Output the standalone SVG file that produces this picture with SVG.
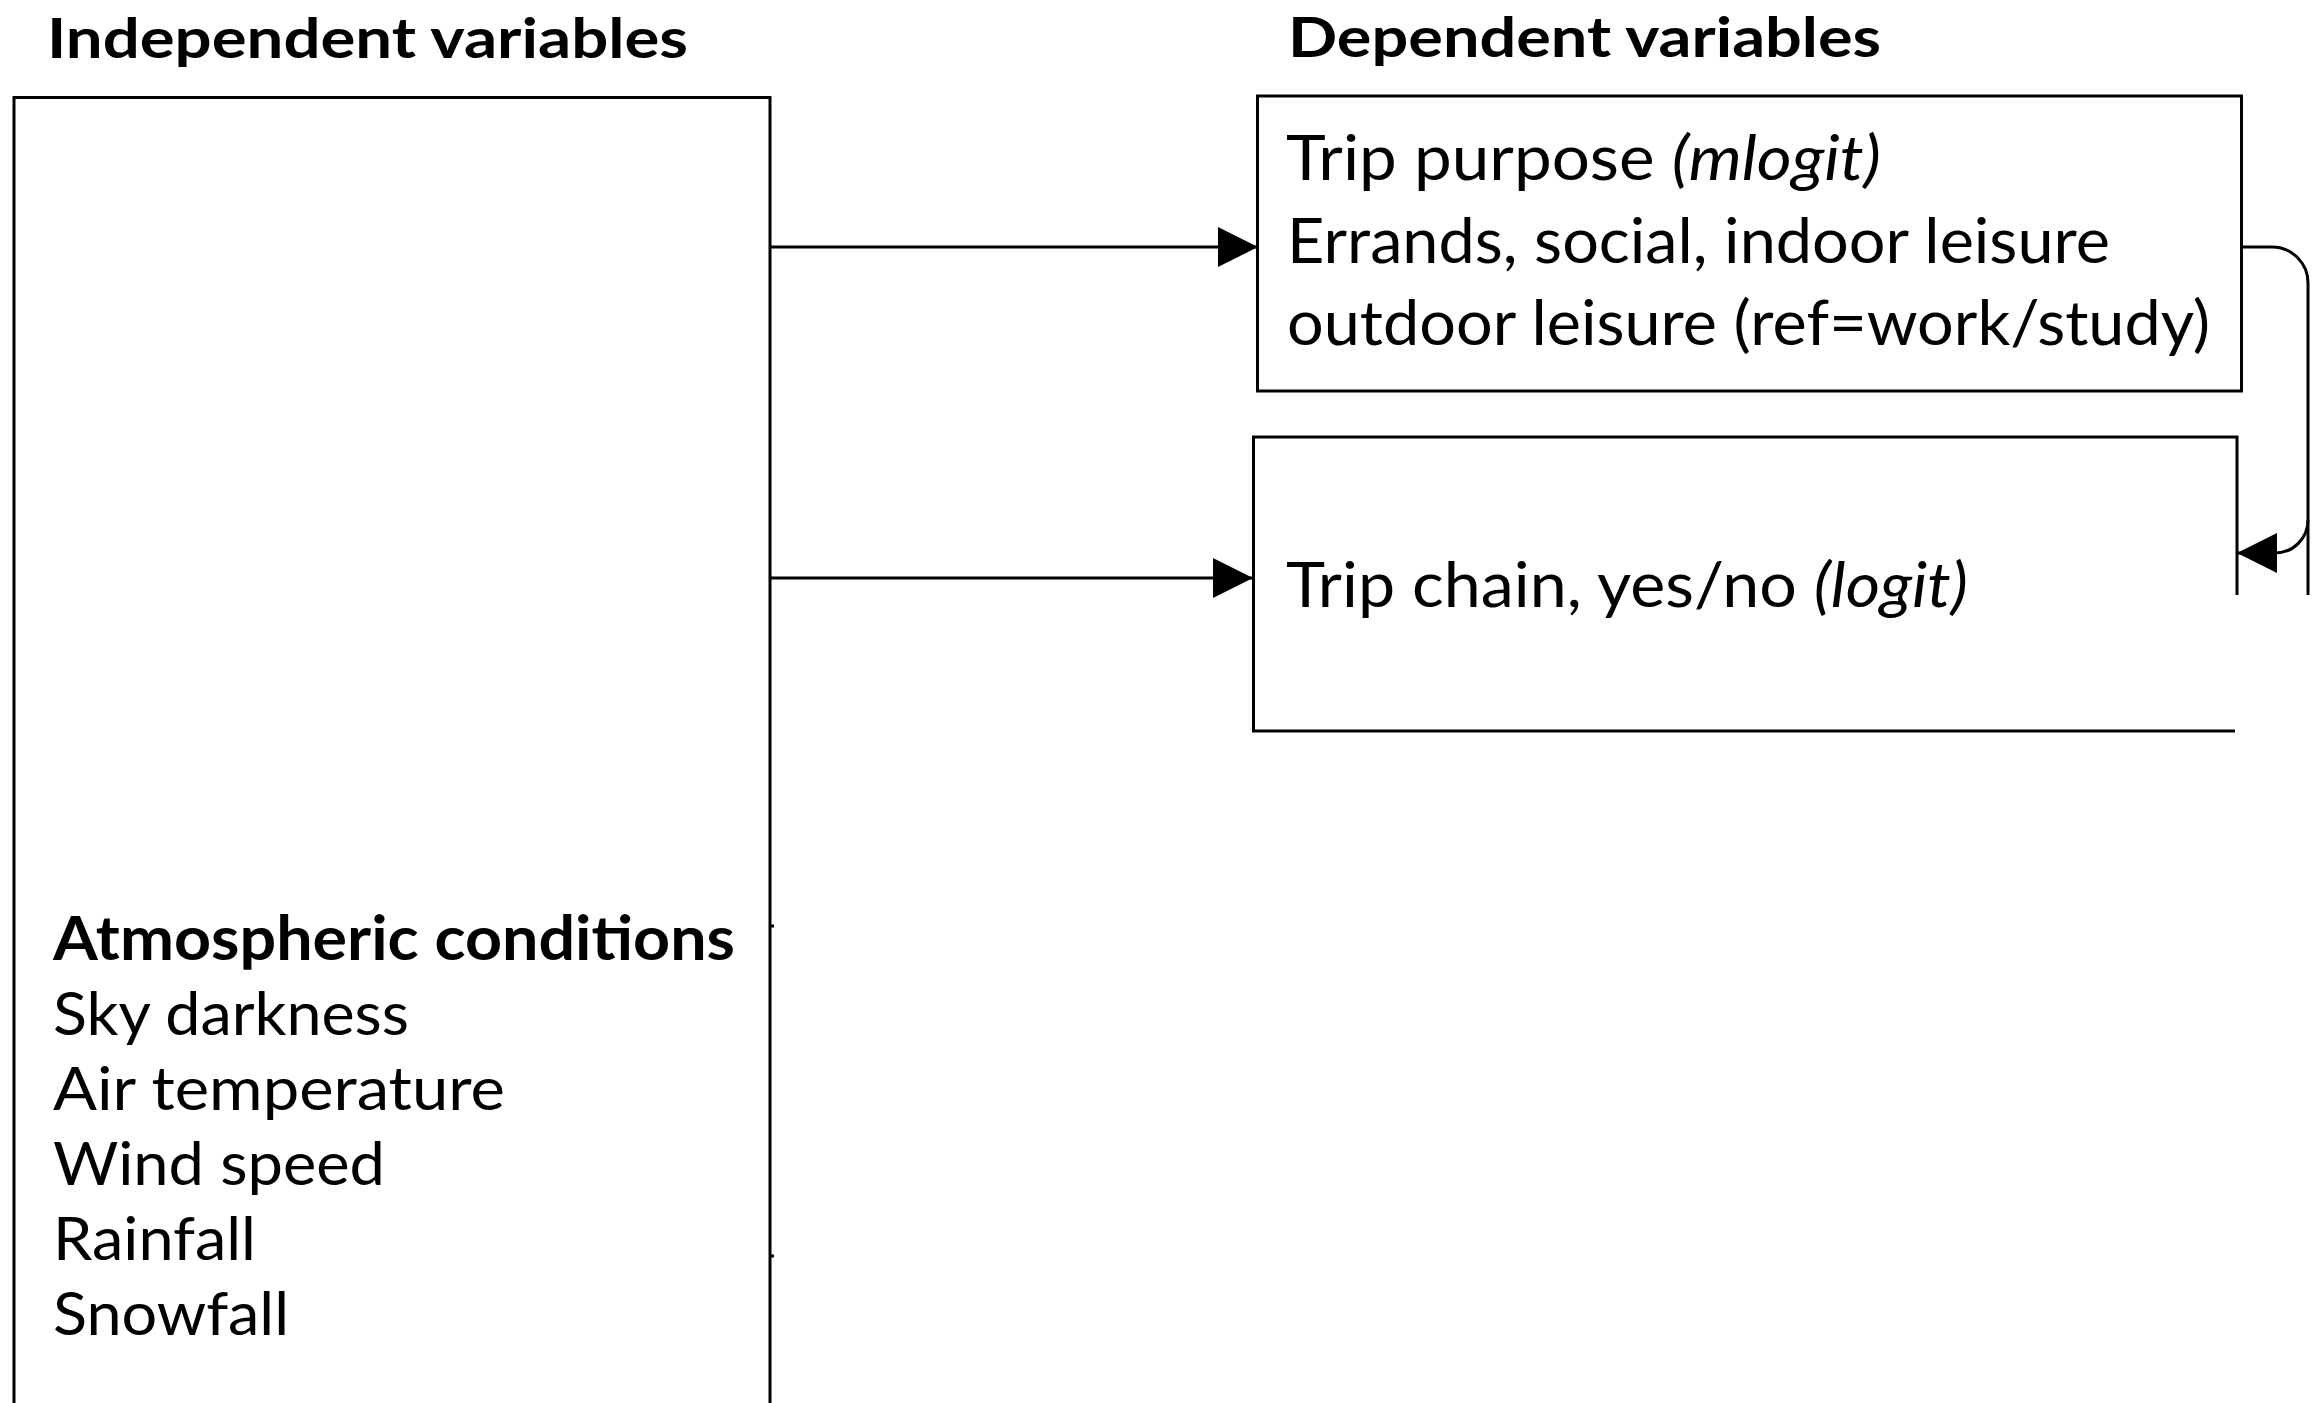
<svg xmlns="http://www.w3.org/2000/svg" width="2314" height="1403" viewBox="0 0 2314 1403">
  <style>
    .t { font-family: Lato, "Open Sans", "Liberation Sans", sans-serif; fill: #000; }
    .b { font-weight: bold; font-size: 61px; }
    .h { font-weight: bold; font-size: 56px; }
    .r { font-size: 60px; }
    .rr { font-size: 62px; }
    .i { font-style: italic; }
    .box { fill: none; stroke: #000; stroke-width: 3; }
    .con { fill: none; stroke: #000; stroke-width: 3; }
  </style>
  <defs>
    <marker id="ah" viewBox="0 0 40 40" markerWidth="40" markerHeight="40" refX="40" refY="20" orient="auto" markerUnits="userSpaceOnUse">
      <path d="M0,0 L40,20 L0,40 Z" fill="#000"/>
    </marker>
  </defs>
  <rect width="2314" height="1403" fill="#fff"/>

  <g id="title-independent">
    <text class="t h" x="47" y="58" textLength="641" lengthAdjust="spacingAndGlyphs">Independent variables</text>
  </g>
  <g id="title-dependent">
    <text class="t h" x="1288" y="57" textLength="593" lengthAdjust="spacingAndGlyphs">Dependent variables</text>
  </g>

  <g id="node-atmospheric">
    <path class="box" d="M14,1405 V97.5 H770 V1405"/>
    <path d="M771,926 h3 M771,1256 h3" stroke="#000" stroke-width="3"/>
    <text class="t b" x="53" y="960" textLength="682" lengthAdjust="spacingAndGlyphs">Atmospheric conditions</text>
    <text class="t r" x="53" y="1035" textLength="356" lengthAdjust="spacingAndGlyphs">Sky darkness</text>
    <text class="t r" x="53" y="1110" textLength="452" lengthAdjust="spacingAndGlyphs">Air temperature</text>
    <text class="t r" x="53" y="1185" textLength="332" lengthAdjust="spacingAndGlyphs">Wind speed</text>
    <text class="t r" x="53" y="1260" textLength="203" lengthAdjust="spacingAndGlyphs">Rainfall</text>
    <text class="t r" x="53" y="1335" textLength="236" lengthAdjust="spacingAndGlyphs">Snowfall</text>
  </g>

  <g id="node-trip-purpose">
    <rect class="box" x="1257.5" y="96" width="984" height="295"/>
    <text class="t rr" x="1286" y="180" textLength="595" lengthAdjust="spacingAndGlyphs">Trip purpose <tspan class="i">(mlogit)</tspan></text>
    <text class="t rr" x="1287" y="263" textLength="823" lengthAdjust="spacingAndGlyphs">Errands, social, indoor leisure</text>
    <text class="t rr" x="1287" y="345" textLength="923" lengthAdjust="spacingAndGlyphs">outdoor leisure (ref=work/study)</text>
  </g>

  <g id="node-trip-chain">
    <path class="box" d="M2237,595 V437 H1253.5 V731 H2235"/>
    <text class="t rr" x="1286" y="607" textLength="682" lengthAdjust="spacingAndGlyphs">Trip chain, yes/no <tspan class="i">(logit)</tspan></text>
  </g>

  <g id="connectors">
    <path class="con" d="M771,247 H1258" marker-end="url(#ah)"/>
    <path class="con" d="M771,578 H1253" marker-end="url(#ah)"/>
    <path class="con" d="M2242,247 H2272 A36,36 0 0 1 2308,283 V595"/>
    <path class="con" d="M2308,520 A33,33 0 0 1 2275,553 H2237" marker-end="url(#ah)"/>
  </g>
</svg>
